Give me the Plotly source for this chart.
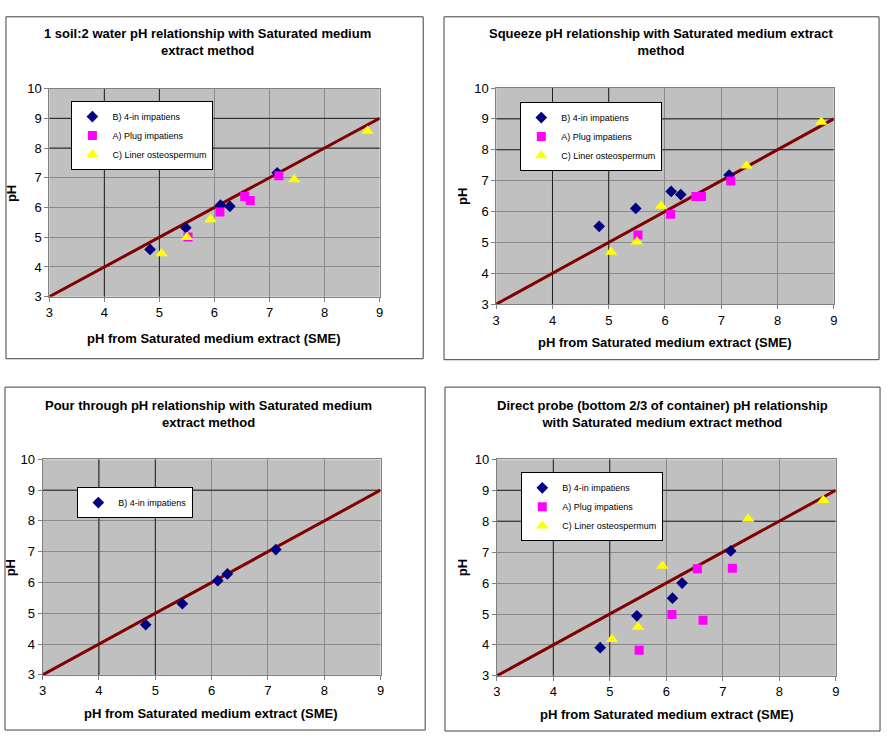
import plotly.graph_objects as go

W, H = 888, 740

# ---------------- data ----------------
titles = [
    "1 soil:2 water pH relationship with Saturated medium<br>extract method",
    "Squeeze pH relationship with Saturated medium extract<br>method",
    "Pour through pH relationship with Saturated medium<br>extract method",
    "Direct probe (bottom 2/3 of container) pH relationship<br>with Saturated medium extract method",
]
x_title = "pH from Saturated medium extract (SME)"
y_title = "pH"
series_names = ["B) 4-in impatiens", "A) Plug impatiens", "C) Liner osteospermum"]

sme_b = [4.83, 5.48, 6.11, 6.28, 7.14]
sme_a = [5.52, 6.10, 6.55, 6.65, 7.17]
sme_c = [5.04, 5.50, 5.93, 7.45, 8.78]

soil_b = [4.59, 5.32, 6.08, 6.04, 7.17]
soil_a = [5.01, 5.85, 6.37, 6.24, 7.07]
soil_c = [4.45, 5.00, 5.60, 6.94, 8.57]

squeeze_b = [5.52, 6.10, 6.65, 6.55, 7.18]
squeeze_a = [5.24, 5.91, 6.49, 6.49, 6.99]
squeeze_c = [4.69, 5.02, 6.18, 7.48, 8.90]

pour_b = [4.63, 5.31, 6.06, 6.28, 7.07]

probe_b = [3.91, 4.94, 5.51, 6.00, 7.04]
probe_a = [3.83, 4.98, 6.46, 4.80, 6.48]
probe_c = [4.18, 4.58, 6.55, 8.07, 8.68]

ref_line = [3, 9]
x_ticks = [3, 4, 5, 6, 7, 8, 9]
y_ticks = [3, 4, 5, 6, 7, 8, 9, 10]

panels = [
    {"series": [(sme_b, soil_b), (sme_a, soil_a), (sme_c, soil_c)]},
    {"series": [(sme_b, squeeze_b), (sme_a, squeeze_a), (sme_c, squeeze_c)]},
    {"series": [(sme_b, pour_b)]},
    {"series": [(sme_b, probe_b), (sme_a, probe_a), (sme_c, probe_c)]},
]

# ---------------- layout geometry (pixels) ----------------
plot_px = [  # x0, x1, y0(top), y1(bottom)
    (45.7, 379.0, 83.3, 295.7),
    (496.7, 837.3, 82.7, 303.3),
    (39.0, 380.0, 461.7, 681.7),
    (497.3, 839.3, 461.7, 682.7),
]
frame_px = [
    (2, 10, 423, 359),
    (444, 10, 883, 360),
    (1, 388, 425, 738),
    (445, 388, 884, 739),
]
title_px = [(205, 36), (663, 36), (206, 415), (664, 415)]
xtitle_px = [(212, 338), (667, 342), (209, 721), (669, 722)]
ytitle_px = [(7, 190), (462, 193), (6, 572), (463, 572)]
legend_px = [(68, 96), (521, 97), (74, 490), (522, 475)]
dark_x = [[4, 5], [4, 5], [4, 5], [4, 5]]
dark_y = [[8, 9], [8, 9], [9], [8, 9]]

styles = [
    dict(symbol="diamond", color="#000080", size=9),
    dict(symbol="square", color="#FF00FF", size=9),
    dict(symbol="triangle-up", color="#FFFF00", size=11),
]

FONT = "Liberation Sans, Arial, sans-serif"

fig = go.Figure()
annotations = []
shapes = []

for i, p in enumerate(panels):
    n = "" if i == 0 else str(i + 1)
    xa, ya = "x" + n, "y" + n
    leg = "legend" if i == 0 else "legend" + str(i + 1)
    # reference 1:1 line
    fig.add_trace(go.Scatter(x=ref_line, y=ref_line, mode="lines",
                             line=dict(color="#800000", width=3),
                             xaxis=xa, yaxis=ya, showlegend=False,
                             hoverinfo="skip", cliponaxis=False))
    for (xs, ys), name, st in zip(p["series"], series_names, styles):
        fig.add_trace(go.Scatter(x=xs, y=ys, mode="markers", name=name,
                                 marker=dict(symbol=st["symbol"], color=st["color"],
                                             size=st["size"], line=dict(width=0)),
                                 xaxis=xa, yaxis=ya, legend=leg))
    x0, x1, y0, y1 = plot_px[i]
    axis_common = dict(showgrid=True, gridcolor="#8a8a8a", gridwidth=1,
                       showline=True, linecolor="#808080", linewidth=1, mirror=True,
                       ticks="outside", ticklen=4, tickcolor="#808080",
                       tickfont=dict(family=FONT, size=13, color="#000000"),
                       zeroline=False, fixedrange=True)
    fig.update_layout(**{
        ("xaxis" + n): dict(domain=[x0 / W, x1 / W], range=[3, 9], tickvals=x_ticks,
                            anchor=ya, **axis_common),
        ("yaxis" + n): dict(domain=[1 - y1 / H, 1 - y0 / H], range=[3, 10], tickvals=y_ticks,
                            anchor=xa, **axis_common),
    })
    lx, ly = legend_px[i]
    fig.update_layout(**{leg: dict(x=lx / W, y=1 - ly / H, xanchor="left", yanchor="top",
                                   bgcolor="#FFFFFF", bordercolor="#000000", borderwidth=1,
                                   font=dict(family=FONT, size=9, color="#000000"),
                                   itemsizing="trace", itemwidth=30, tracegroupgap=0)})
    for v in dark_x[i]:
        shapes.append(dict(type="line", xref=xa, yref=ya, x0=v, x1=v, y0=3, y1=10,
                           line=dict(color="#202020", width=1), layer="between"))
    for v in dark_y[i]:
        shapes.append(dict(type="line", xref=xa, yref=ya, x0=3, x1=9, y0=v, y1=v,
                           line=dict(color="#202020", width=1), layer="between"))
    fx0, fy0, fx1, fy1 = frame_px[i]
    shapes.append(dict(type="rect", xref="paper", yref="paper",
                       x0=fx0 / W, x1=fx1 / W, y0=1 - fy1 / H, y1=1 - fy0 / H,
                       line=dict(color="#404040", width=1), fillcolor="rgba(0,0,0,0)"))
    tx, ty = title_px[i]
    annotations.append(dict(text="<b>" + titles[i].replace("<br>", "</b><br><b>") + "</b>",
                            x=tx / W, y=1 - ty / H, xref="paper", yref="paper",
                            xanchor="center", yanchor="middle", showarrow=False,
                            font=dict(family=FONT, size=13, color="#000000")))
    ax_, ay_ = xtitle_px[i]
    annotations.append(dict(text="<b>" + x_title + "</b>", x=ax_ / W, y=1 - ay_ / H,
                            xref="paper", yref="paper", xanchor="center", yanchor="middle",
                            showarrow=False, font=dict(family=FONT, size=13, color="#000000")))
    bx, by = ytitle_px[i]
    annotations.append(dict(text="<b>" + y_title + "</b>", x=bx / W, y=1 - by / H,
                            xref="paper", yref="paper", xanchor="center", yanchor="middle",
                            textangle=-90, showarrow=False,
                            font=dict(family=FONT, size=13, color="#000000")))

fig.update_layout(width=W, height=H, margin=dict(l=0, r=0, t=0, b=0),
                  paper_bgcolor="#FFFFFF", plot_bgcolor="#C0C0C0",
                  annotations=annotations, shapes=shapes, showlegend=True)

fig.write_html("out.html", config={"displayModeBar": False})
